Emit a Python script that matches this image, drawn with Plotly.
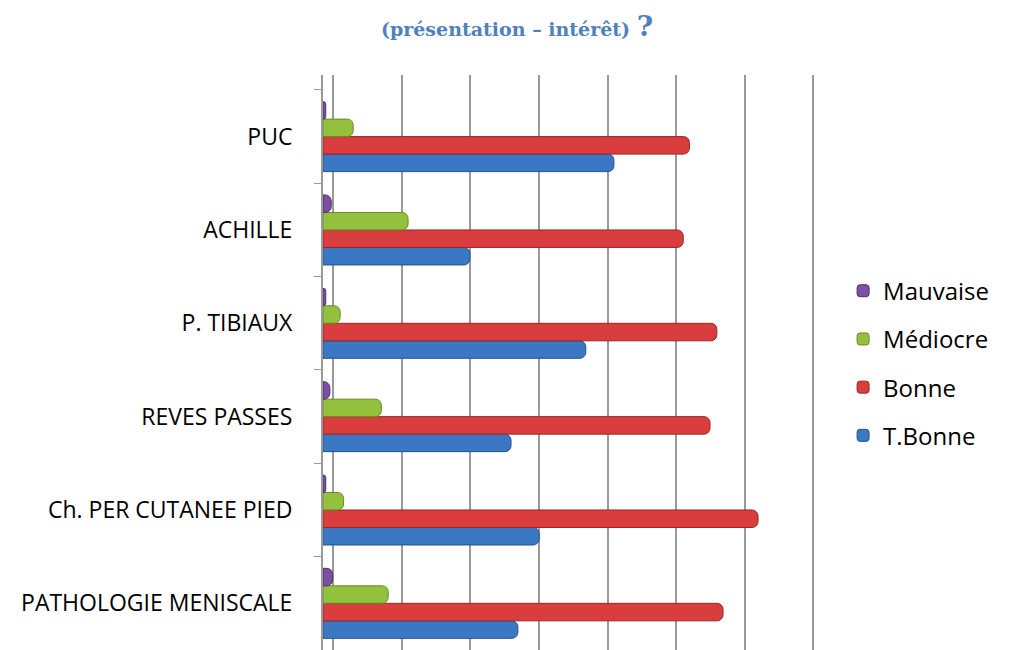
import plotly.graph_objects as go

categories = ["PUC", "ACHILLE", "P. TIBIAUX", "REVES PASSES", "Ch. PER CUTANEE PIED", "PATHOLOGIE MENISCALE"]
mauvaise = [0.4, 1.2, 0.4, 1.0, 0.4, 1.4]
mediocre = [4.4, 12.4, 2.5, 8.5, 3.0, 9.5]
bonne = [53.4, 52.5, 57.4, 56.4, 63.4, 58.3]
t_bonne = [42.4, 21.4, 38.3, 27.4, 31.5, 28.4]

series = [
    ("T.Bonne", t_bonne, "#3B78C4", "#24528c", 4),
    ("Bonne", bonne, "#D93D3D", "#9c2626", 3),
    ("Médiocre", mediocre, "#93C13E", "#678a27", 2),
    ("Mauvaise", mauvaise, "#7B4FA3", "#4f2f70", 1),
]

fig = go.Figure()
for name, vals, col, edge, rank in series:
    fig.add_trace(go.Bar(
        y=categories, x=vals, name=name, orientation="h",
        marker=dict(color=col, line=dict(color=edge, width=1), cornerradius=6),
        legendgroup=name, legendrank=rank,
    ))

# invisible helper on the back-wall axis so its gridlines show
fig.add_trace(go.Scatter(x=[0, 70], y=[categories[0], categories[0]], xaxis="x2",
                         mode="markers", marker=dict(opacity=0), showlegend=False,
                         hoverinfo="skip"))

fig.update_layout(
    width=1011, height=650,
    paper_bgcolor="white", plot_bgcolor="white",
    margin=dict(l=315, r=204, t=67, b=8),
    barmode="group", bargap=0.25, bargroupgap=0,
    font=dict(family="Open Sans, sans-serif", color="#000000"),
    xaxis=dict(range=[0, 71.7], showgrid=False, showticklabels=False, zeroline=False,
               showline=False, ticks=""),
    xaxis2=dict(range=[-1.46, 70.24], overlaying="x", side="bottom", showgrid=True,
                gridcolor="#9a9a9a", gridwidth=2, showticklabels=False, zeroline=False,
                showline=False, ticks="", tickvals=[0, 10, 20, 30, 40, 50, 60, 70]),
    yaxis=dict(categoryorder="array", categoryarray=categories[::-1],
               range=[-0.5, 5.66], autorange=False,
               showline=True, linecolor="#9a9a9a", linewidth=2,
               ticks="outside", ticklen=7, tickcolor="#9a9a9a", tickwidth=1,
               tickson="boundaries", showgrid=False,
               tickfont=dict(size=23, family="Open Sans, sans-serif", color="#000000"),
               ticklabelstandoff=24),
    legend=dict(xref="container", yref="container", x=0.826, y=0.599,
                xanchor="left", yanchor="top",
                traceorder="grouped", tracegroupgap=14,
                font=dict(size=24, family="Open Sans, sans-serif", color="#000000"),
                itemwidth=30),
    showlegend=True,
)

fig.add_annotation(
    text="<b>(présentation – intérêt) </b><b><span style='font-size:28px'>?</span></b>",
    xref="paper", yref="paper", x=0.394, y=1.1165, xanchor="center", yanchor="top",
    showarrow=False,
    font=dict(family="DejaVu Serif, serif", size=19, color="#4F81BD"),
)

fig.write_html("out.html")
